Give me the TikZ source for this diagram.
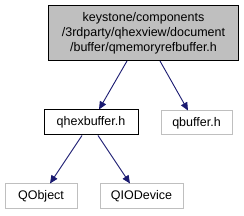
\documentclass[tikz,border=0pt]{standalone}
\usepackage{fontspec}
\setmainfont{Liberation Sans}
\usetikzlibrary{arrows.meta}
\definecolor{edgeblue}{HTML}{191970}
\definecolor{boxgray}{HTML}{BFBFBF}
\tikzset{
  filebox/.style={draw=black, fill=white, line width=1pt, inner sep=0pt, font=\fontsize{12.5}{15}\selectfont},
  extbox/.style={draw=boxgray, fill=white, line width=1pt, inner sep=0pt, font=\fontsize{12.5}{15}\selectfont},
  dep/.style={draw=edgeblue, line width=0.9pt, -{Triangle[length=8pt,width=7pt]}}
}
\begin{document}
\begin{tikzpicture}[x=1pt,y=-1pt]
\useasboundingbox (0,0) rectangle (244,216);
\node[filebox, fill=boxgray, minimum width=190pt, minimum height=55pt, align=center] (top) at (143.5,33) {keystone/components\\/3rdparty/qhexview/document\\/buffer/qmemoryrefbuffer.h};
\node[filebox, minimum width=94pt, minimum height=25pt] (qhex) at (91,122.5) {qhexbuffer.h};
\node[extbox, minimum width=71pt, minimum height=24pt] (qbuf) at (196.5,123) {qbuffer.h};
\node[extbox, minimum width=72pt, minimum height=25pt] (qobj) at (41,196.5) {QObject};
\node[extbox, minimum width=83pt, minimum height=25pt] (qio) at (141.5,196.5) {QIODevice};
\draw[dep] (top.south -| 127,0) -- (qhex.north -| 99,0);
\draw[dep] (top.south -| 160,0) -- (qbuf.north -| 188,0);
\draw[dep] (qhex.south -| 82,0) -- (qobj.north -| 50,0);
\draw[dep] (qhex.south -| 98,0) -- (qio.north -| 130,0);
\end{tikzpicture}
\end{document}
